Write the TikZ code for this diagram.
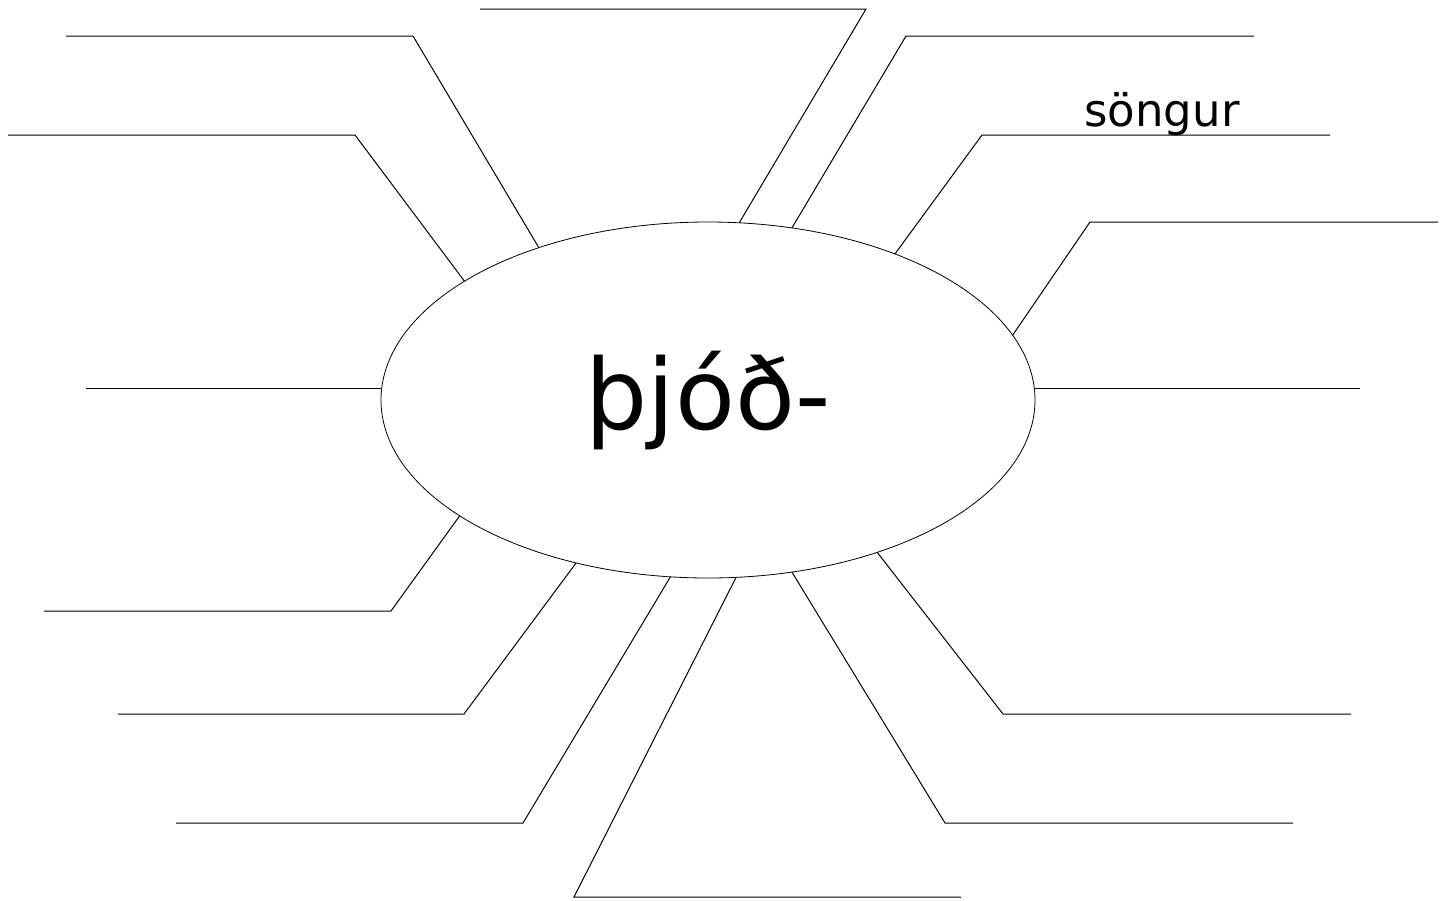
\documentclass[tikz,border=0pt]{standalone}
\usepackage{fontspec}
\setmainfont{DejaVu Sans}
\usetikzlibrary{positioning, shapes.geometric}

\begin{document}
\begin{tikzpicture}[
  x=1pt, y=-1pt,
  hub/.style={draw, ellipse, line width=0.8pt,
              minimum width=654pt, minimum height=356pt,
              inner sep=0pt, outer sep=0pt,
              font=\fontsize{98}{110}\selectfont},
  spoke/.style={draw, line width=1pt},
  word/.style={font=\fontsize{45}{54}\selectfont, inner sep=0pt},
]
\useasboundingbox (0,0) rectangle (1448,900);

\node[hub] (root) at (708,400) {þjóð-};

% elbows and free ends, left side
\coordinate (kneeA) at (413,36);   \coordinate (tipA) at (66,36);
\coordinate (kneeB) at (355,135);  \coordinate (tipB) at (8,135);
\coordinate (tipC) at (86,388);
\coordinate (kneeD) at (391,611);  \coordinate (tipD) at (44,611);
\coordinate (kneeE) at (464,714);  \coordinate (tipE) at (118,714);
\coordinate (kneeF) at (523,823);  \coordinate (tipF) at (176,823);
\coordinate (kneeG) at (574,897);  \coordinate (tipG) at (961,897);
% elbows and free ends, right side
\coordinate (kneeH) at (945,823);  \coordinate (tipH) at (1293,823);
\coordinate (kneeI) at (1003,714); \coordinate (tipI) at (1351,714);
\coordinate (tipJ) at (1360,388);
\coordinate (kneeK) at (1090,222); \coordinate (tipK) at (1438,222);
\coordinate (kneeL) at (982,135);  \coordinate (tipL) at (1330,135);
\coordinate (kneeM) at (906,36);   \coordinate (tipM) at (1254,36);
\coordinate (kneeN) at (866,9);    \coordinate (tipN) at (480,9);

\draw[spoke] (root.138)   -- (kneeA) -- (tipA);
\draw[spoke] (root.154.1) -- (kneeB) -- (tipB);
\draw[spoke] (root.west |- tipC) -- (tipC);
\draw[spoke] (root.205.3) -- (kneeD) -- (tipD);
\draw[spoke] (root.231.2) -- (kneeE) -- (tipE);
\draw[spoke] (root.258.2) -- (kneeF) -- (tipF);
\draw[spoke] (root.279.3) -- (kneeG) -- (tipG);
\draw[spoke] (root.296.8) -- (kneeH) -- (tipH);
\draw[spoke] (root.318.8) -- (kneeI) -- (tipI);
\draw[spoke] (root.east |- tipJ) -- (tipJ);
\draw[spoke] (root.12.9)  -- (kneeK) -- (tipK);
\draw[spoke] (root.38.2)  -- (kneeL) -- (tipL);
\draw[spoke] (root.64)    -- (kneeM) -- (tipM);
\draw[spoke] (root.80.1)  -- (kneeN) -- (tipN);

\node[word, anchor=base] (song) at (1162,126) {söngur};
\end{tikzpicture}
\end{document}
